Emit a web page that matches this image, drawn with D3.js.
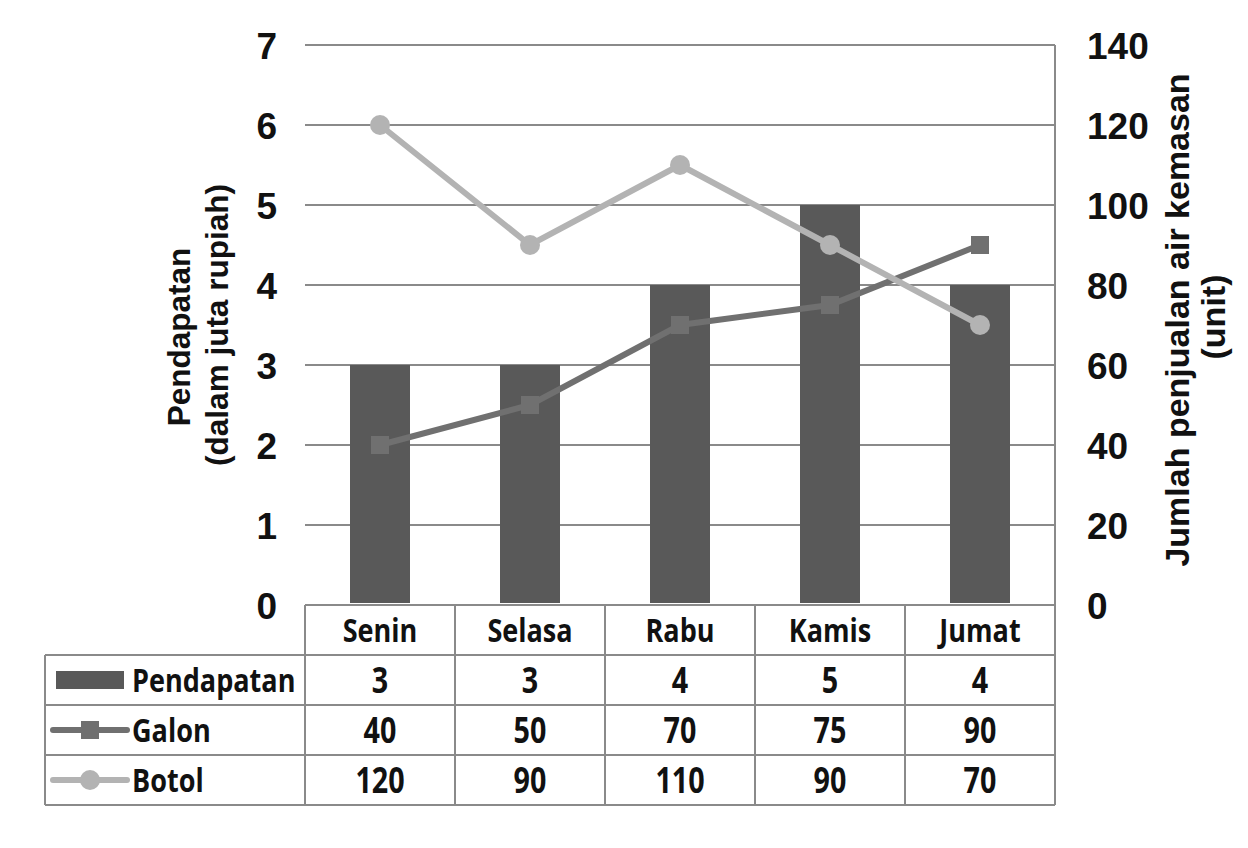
<!DOCTYPE html>
<meta charset="utf-8">
<style>
  body { margin: 0; background: #fff; }
  svg text.title { font-family: "Liberation Sans", Arial, sans-serif; font-weight: bold; fill: #111; }
  svg text.cell { font-family: "Open Sans", sans-serif; font-weight: bold; font-size: 33px; fill: #111; }
  svg text.cell.val { font-size: 35px; }
</style>
<svg width="1248" height="848"></svg>
<script src="https://d3js.org/d3.v7.min.js"></script>
<script>

// data
var days = ["Senin", "Selasa", "Rabu", "Kamis", "Jumat"];
var pendapatan = [3, 3, 4, 5, 4];
var galon = [40, 50, 70, 75, 90];
var botol = [120, 90, 110, 90, 70];
var leftTicks = [0, 1, 2, 3, 4, 5, 6, 7];
var rightTicks = [0, 20, 40, 60, 80, 100, 120, 140];

var svg = d3.select("svg"),
    plotL = 305, plotR = 1055, plotT = 45, plotB = 605,
    rowH = 50, legendX = 45, squeeze = 0.82;

var x = d3.scaleBand().domain(days).range([plotL, plotR]);
var yL = d3.scaleLinear().domain([0, 7]).range([plotB, plotT]);
var yR = d3.scaleLinear().domain([0, 140]).range([plotB, plotT]);

var barCol = "#595959", galonCol = "#707070", botolCol = "#b3b3b3", gridCol = "#8a8a8a";

// gridlines
svg.append("g").selectAll("line")
  .data(leftTicks.slice(1))
  .enter().append("line")
    .attr("x1", plotL).attr("x2", plotR)
    .attr("y1", yL).attr("y2", yL)
    .attr("stroke", gridCol).attr("stroke-width", 2);

// right border of plot
svg.append("line")
    .attr("x1", plotR).attr("x2", plotR)
    .attr("y1", plotT).attr("y2", plotB)
    .attr("stroke", gridCol).attr("stroke-width", 2);

function styleTicks(ax) {
  ax.select(".domain").remove();
  ax.attr("font-family", null).attr("font-size", null);
  ax.selectAll("text")
      .attr("dy", "0.36em")
      .style("font-family", "'Liberation Sans', Arial, sans-serif")
      .style("font-weight", "bold")
      .style("font-size", "37px")
      .style("fill", "#111");
}

// axes
var axL = svg.append("g").attr("transform", "translate(" + plotL + ",0)")
    .call(d3.axisLeft(yL).tickValues(leftTicks).tickFormat(d3.format("d")).tickSize(0).tickPadding(28));
styleTicks(axL);

var axR = svg.append("g").attr("transform", "translate(" + plotR + ",0)")
    .call(d3.axisRight(yR).tickValues(rightTicks).tickSize(0).tickPadding(32));
styleTicks(axR);

// bars
var bw = 60;
svg.append("g").selectAll("rect")
  .data(days)
  .enter().append("rect")
    .attr("x", function(d) { return x(d) + x.bandwidth() / 2 - bw / 2; })
    .attr("y", function(d, i) { return yL(pendapatan[i]); })
    .attr("width", bw)
    .attr("height", function(d, i) { return yL(0) - yL(pendapatan[i]) - 2; })
    .attr("fill", barCol);

var cx = function(d, i) { return x(days[i]) + x.bandwidth() / 2; };

// galon line
svg.append("path")
    .datum(galon)
    .attr("fill", "none").attr("stroke", galonCol).attr("stroke-width", 6)
    .attr("d", d3.line().x(cx).y(function(d) { return yR(d); }));
svg.append("g").selectAll("rect")
  .data(galon)
  .enter().append("rect")
    .attr("x", function(d, i) { return cx(d, i) - 9; })
    .attr("y", function(d) { return yR(d) - 9; })
    .attr("width", 18).attr("height", 18)
    .attr("fill", galonCol);

// botol line
svg.append("path")
    .datum(botol)
    .attr("fill", "none").attr("stroke", botolCol).attr("stroke-width", 6)
    .attr("d", d3.line().x(cx).y(function(d) { return yR(d); }));
svg.append("g").selectAll("circle")
  .data(botol)
  .enter().append("circle")
    .attr("cx", cx)
    .attr("cy", function(d) { return yR(d); })
    .attr("r", 10)
    .attr("fill", botolCol);

// axis titles
function title(tx, ty, size, s) {
  svg.append("text").attr("class", "title")
      .attr("text-anchor", "middle")
      .style("font-size", size + "px")
      .attr("transform", "translate(" + tx + "," + ty + ")rotate(-90)")
      .text(s);
}
title(190, 337, 31.5, "Pendapatan");
title(228, 325, 31.5, "(dalam juta rupiah)");
title(1189, 320, 34, "Jumlah penjualan air kemasan");
title(1225, 317, 34, "(unit)");

// data table
var table = svg.append("g");
var rows = [
  { name: "Pendapatan", vals: pendapatan },
  { name: "Galon", vals: galon },
  { name: "Botol", vals: botol }
];

function hline(x1, x2, y) {
  table.append("line").attr("x1", x1).attr("x2", x2).attr("y1", y).attr("y2", y)
    .attr("stroke", gridCol).attr("stroke-width", 2);
}
function vline(xx, y1, y2) {
  table.append("line").attr("x1", xx).attr("x2", xx).attr("y1", y1).attr("y2", y2)
    .attr("stroke", gridCol).attr("stroke-width", 2);
}
hline(plotL, plotR, plotB);
for (var r = 0; r <= rows.length; r++) hline(legendX, plotR, plotB + rowH * (r + 1));
vline(legendX, plotB + rowH, plotB + rowH * 4);
days.forEach(function(d) { vline(x(d), plotB, plotB + rowH * 4); });
vline(plotR, plotB, plotB + rowH * 4);

function cellText(tx, ty, anchor, s, cls) {
  table.append("text")
      .attr("class", "cell" + (cls ? " " + cls : ""))
      .attr("text-anchor", anchor)
      .attr("dy", "0.36em")
      .attr("transform", "translate(" + tx + "," + ty + ")scale(" + squeeze + ",1)")
      .text(s);
}

// header
days.forEach(function(d) {
  cellText(x(d) + x.bandwidth() / 2, plotB + rowH / 2, "middle", d);
});

rows.forEach(function(row, r) {
  var yc = plotB + rowH * (r + 1) + rowH / 2;
  row.vals.forEach(function(v, i) {
    cellText(x(days[i]) + x.bandwidth() / 2, yc, "middle", v, "val");
  });
  cellText(132, yc, "start", row.name);

  // legend keys
  if (r === 0) {
    table.append("rect").attr("x", 56).attr("y", yc - 9).attr("width", 68).attr("height", 18).attr("fill", barCol);
  } else if (r === 1) {
    table.append("line").attr("x1", 53).attr("x2", 127).attr("y1", yc).attr("y2", yc)
      .attr("stroke", galonCol).attr("stroke-width", 6).attr("stroke-linecap", "round");
    table.append("rect").attr("x", 81).attr("y", yc - 9).attr("width", 18).attr("height", 18).attr("fill", galonCol);
  } else {
    table.append("line").attr("x1", 53).attr("x2", 127).attr("y1", yc).attr("y2", yc)
      .attr("stroke", botolCol).attr("stroke-width", 6).attr("stroke-linecap", "round");
    table.append("circle").attr("cx", 90).attr("cy", yc).attr("r", 10).attr("fill", botolCol);
  }
});

</script>
